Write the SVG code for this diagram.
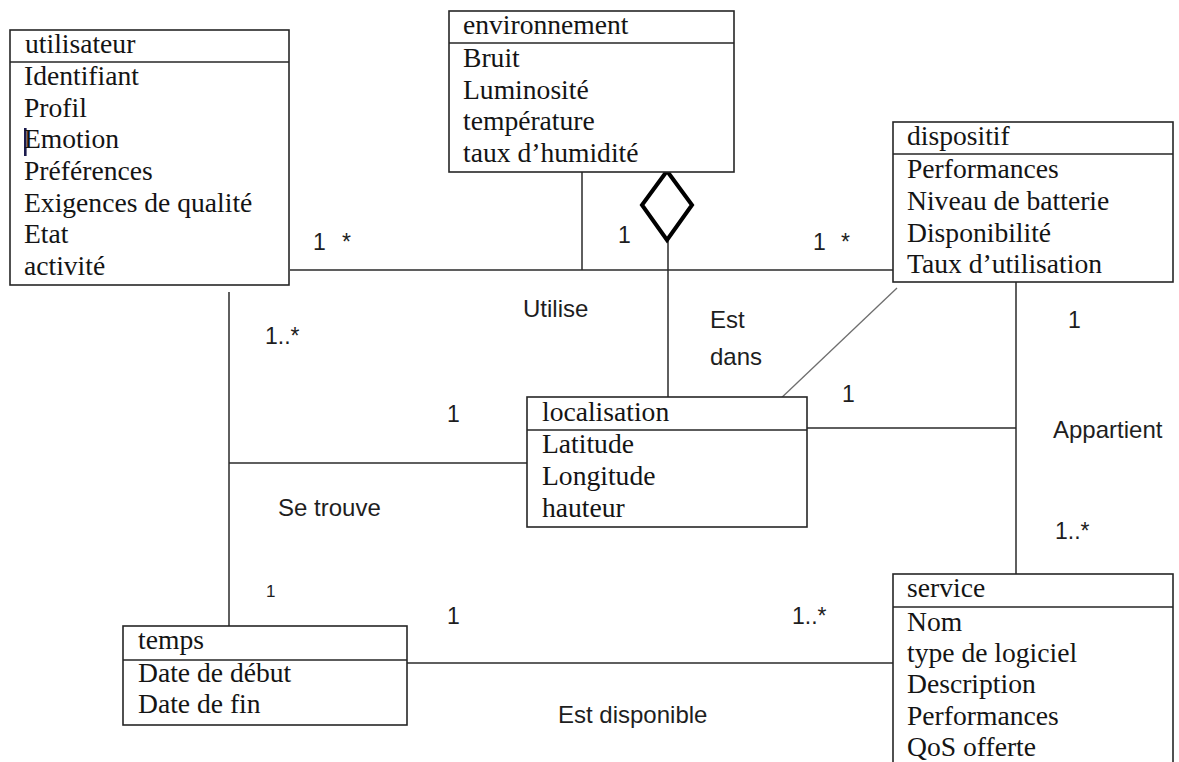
<svg xmlns="http://www.w3.org/2000/svg" width="1179" height="762" viewBox="0 0 1179 762">
  <style>
    .box { fill: #ffffff; stroke: #262626; stroke-width: 1.6; }
    .sep { stroke: #262626; stroke-width: 1.6; }
    .cls { font-family: "Liberation Serif", "Times New Roman", serif; font-size: 27.6px; fill: #141414; }
    .lbl { font-family: "Liberation Sans", Arial, sans-serif; font-size: 24px; fill: #1e1e1e; }
    .num { font-family: "Liberation Sans", Arial, sans-serif; font-size: 23px; fill: #1e1e1e; }
    .wire { stroke: #2a2a2a; stroke-width: 1.5; fill: none; }
    .thin { stroke: #6e6e6e; stroke-width: 1.3; fill: none; }
    .agg { fill: #ffffff; stroke: #000000; stroke-width: 4; stroke-linejoin: miter; }
  </style>
  <defs>
    <clipPath id="clipDans">
      <rect x="690" y="330" width="100" height="36.5"/>
    </clipPath>
  </defs>

  <rect width="1179" height="762" fill="#ffffff"/>

  <!-- associations -->
  <g id="connectors">
    <!-- Utilise -->
    <line class="wire" x1="290" y1="270" x2="893" y2="270"/>
    <line class="wire" x1="582" y1="172" x2="582" y2="270"/>
    <!-- Est dans (aggregation) -->
    <line class="wire" x1="668" y1="238" x2="668" y2="397"/>
    <polygon class="agg" points="667,171 692,205 667,240 642,205"/>
    <!-- dispositif / localisation -->
    <line class="thin" x1="897" y1="288" x2="777" y2="402"/>
    <!-- Appartient -->
    <line class="wire" x1="1016" y1="282" x2="1016" y2="574"/>
    <line class="wire" x1="807" y1="428" x2="1016" y2="428"/>
    <!-- Se trouve -->
    <line class="wire" x1="229" y1="292" x2="229" y2="626"/>
    <line class="wire" x1="229" y1="463" x2="527" y2="463"/>
    <!-- Est disponible -->
    <line class="wire" x1="407" y1="663" x2="893" y2="663"/>
  </g>

  <g id="labels">
    <text class="num" x="313" y="250">1</text>
    <text class="num" x="342" y="250">*</text>
    <text class="lbl" x="523" y="317">Utilise</text>
    <text class="num" x="265" y="344">1..*</text>
    <text class="num" x="618" y="243">1</text>
    <text class="num" x="813" y="250">1</text>
    <text class="num" x="841" y="250">*</text>
    <text class="lbl" x="710" y="328">Est</text>
    <text class="lbl" x="710" y="365" clip-path="url(#clipDans)">dans</text>
    <text class="num" x="842" y="402">1</text>
    <text class="num" x="1068" y="328">1</text>
    <text class="lbl" x="1053" y="438">Appartient</text>
    <text class="num" x="1055" y="539">1..*</text>
    <text class="num" x="447" y="422">1</text>
    <text class="lbl" x="278" y="516">Se trouve</text>
    <text class="num" x="266" y="597" style="font-size:17px">1</text>
    <text class="num" x="447" y="624">1</text>
    <text class="num" x="792" y="624">1..*</text>
    <text class="lbl" x="558" y="723">Est disponible</text>
  </g>

  <g id="utilisateur">
    <rect class="box" x="10" y="30" width="279" height="255"/>
    <line class="sep" x1="10" y1="62" x2="289" y2="62"/>
    <text class="cls" x="25" y="53">utilisateur</text>
    <text class="cls" x="24" y="85">Identifiant</text>
    <text class="cls" x="24" y="117">Profil</text>
    <rect x="24" y="128" width="2.6" height="28" fill="#1b1b4d"/>
    <text class="cls" x="24" y="148">Emotion</text>
    <text class="cls" x="24" y="180">Préférences</text>
    <text class="cls" x="24" y="212">Exigences de qualité</text>
    <text class="cls" x="24" y="243">Etat</text>
    <text class="cls" x="24" y="275">activité</text>
  </g>

  <g id="environnement">
    <rect class="box" x="449" y="11" width="285" height="161"/>
    <line class="sep" x1="449" y1="43" x2="734" y2="43"/>
    <text class="cls" x="463" y="34">environnement</text>
    <text class="cls" x="463" y="67">Bruit</text>
    <text class="cls" x="463" y="99">Luminosité</text>
    <text class="cls" x="463" y="130">température</text>
    <text class="cls" x="463" y="162">taux d’humidité</text>
  </g>

  <g id="dispositif">
    <rect class="box" x="893" y="122" width="280" height="160"/>
    <line class="sep" x1="893" y1="154" x2="1173" y2="154"/>
    <text class="cls" x="907" y="145">dispositif</text>
    <text class="cls" x="907" y="178">Performances</text>
    <text class="cls" x="907" y="210">Niveau de batterie</text>
    <text class="cls" x="907" y="242">Disponibilité</text>
    <text class="cls" x="907" y="273">Taux d’utilisation</text>
  </g>

  <g id="localisation">
    <rect class="box" x="527" y="397" width="280" height="130"/>
    <line class="sep" x1="527" y1="430" x2="807" y2="430"/>
    <text class="cls" x="542" y="421">localisation</text>
    <text class="cls" x="542" y="453">Latitude</text>
    <text class="cls" x="542" y="485">Longitude</text>
    <text class="cls" x="542" y="517">hauteur</text>
  </g>

  <g id="temps">
    <rect class="box" x="123" y="626" width="284" height="99"/>
    <line class="sep" x1="123" y1="660" x2="407" y2="660"/>
    <text class="cls" x="138" y="649">temps</text>
    <text class="cls" x="138" y="682">Date de début</text>
    <text class="cls" x="138" y="713">Date de fin</text>
  </g>

  <g id="service">
    <rect class="box" x="893" y="574" width="280" height="220"/>
    <line class="sep" x1="893" y1="607" x2="1173" y2="607"/>
    <text class="cls" x="907" y="597">service</text>
    <text class="cls" x="907" y="631">Nom</text>
    <text class="cls" x="907" y="662">type de logiciel</text>
    <text class="cls" x="907" y="693">Description</text>
    <text class="cls" x="907" y="725">Performances</text>
    <text class="cls" x="907" y="756">QoS offerte</text>
  </g>
</svg>
